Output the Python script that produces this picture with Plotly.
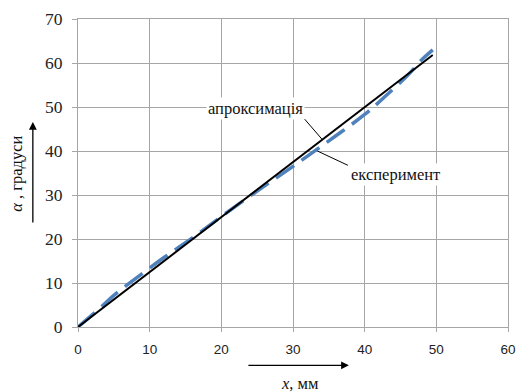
import plotly.graph_objects as go

# experiment (dashed blue)
exp_x = [0, 3, 5, 9, 12, 16, 20, 25, 30, 35, 40, 43, 46, 48, 49.5]
exp_y = [0, 4.2, 7.2, 12.2, 15.8, 20.3, 25.1, 30.9, 36.5, 42.3, 48.3, 52.6, 57.2, 60.8, 63.0]
# approximation (black line)
apr_x = [0, 49.5]
apr_y = [0, 61.8]

x_ticks = [0, 10, 20, 30, 40, 50, 60]
y_ticks = [0, 10, 20, 30, 40, 50, 60, 70]

grid = "#a6a6a6"
serif = "Liberation Serif"
fs = 16.5

fig = go.Figure()
fig.add_trace(go.Scatter(x=exp_x, y=exp_y, mode="lines", line_shape="spline",
                         line=dict(color="#4f81bd", width=3.5, dash="22px,9px"),
                         name="експеримент", showlegend=False))
fig.add_trace(go.Scatter(x=apr_x, y=apr_y, mode="lines",
                         line=dict(color="black", width=2),
                         name="апроксимація", showlegend=False))

fig.update_layout(
    width=525, height=392, autosize=False,
    margin=dict(l=78, r=9, t=16, b=65),
    paper_bgcolor="white", plot_bgcolor="white",
    xaxis=dict(range=[0, 60], tickvals=x_ticks, showgrid=True, gridcolor=grid, gridwidth=1,
               zeroline=False, showline=True, linecolor=grid, mirror=True,
               ticks="outside", ticklen=4, tickcolor=grid, ticklabelstandoff=6,
               tickfont=dict(family="Liberation Sans", size=13.5, color="#222")),
    yaxis=dict(range=[0, 70], tickvals=y_ticks, showgrid=True, gridcolor=grid, gridwidth=1,
               zeroline=False, showline=True, linecolor=grid, mirror=True,
               ticks="outside", ticklen=5, tickcolor=grid, ticklabelstandoff=6,
               tickfont=dict(family=serif, size=17.5, color="#222")),
)

ann = []
# curve labels
ann.append(dict(x=24.8, y=49.7, xref="x", yref="y", text="апроксимація", showarrow=False,
                xanchor="center", yanchor="middle",
                font=dict(family=serif, size=fs, color="#111"), bgcolor="white", borderpad=1))
ann.append(dict(x=44.3, y=34.7, xref="x", yref="y", text="експеримент", showarrow=False,
                xanchor="center", yanchor="middle",
                font=dict(family=serif, size=fs, color="#111"), bgcolor="white", borderpad=1))
# leader lines
ann.append(dict(x=34.1, y=34.1 * apr_y[1] / apr_x[1], xref="x", yref="y", text="",
                showarrow=True, arrowhead=0, arrowwidth=1, arrowcolor="black", ax=-19, ay=-22))
ann.append(dict(x=33.4, y=40.0, xref="x", yref="y", text="",
                showarrow=True, arrowhead=0, arrowwidth=1, arrowcolor="black", ax=32, ay=15))
# axis titles
ann.append(dict(x=-0.1438, y=0.498, xref="paper", yref="paper", text="<i>α</i> , градуси",
                xanchor="center", yanchor="middle",
                textangle=-90, showarrow=False, font=dict(family=serif, size=fs, color="#111")))
ann.append(dict(x=0.516, y=-0.183, xref="paper", yref="paper", text="<i>x</i>, мм",
                xanchor="center", yanchor="middle",
                showarrow=False, font=dict(family=serif, size=fs, color="#111")))
# axis arrows
ann.append(dict(x=-0.105, y=0.6656, xref="paper", yref="paper", text="", showarrow=True,
                arrowhead=2, arrowsize=1.2, arrowwidth=1.3, arrowcolor="black", ax=0, ay=102))
ann.append(dict(x=0.630, y=-0.1244, xref="paper", yref="paper", text="", showarrow=True,
                arrowhead=2, arrowsize=1.2, arrowwidth=1.3, arrowcolor="black", ax=-102, ay=0))
fig.update_layout(annotations=ann)

fig.write_html("out.html", config={"responsive": False, "displayModeBar": False},
               post_script="document.body.style.margin='0';document.body.style.overflow='hidden';")
